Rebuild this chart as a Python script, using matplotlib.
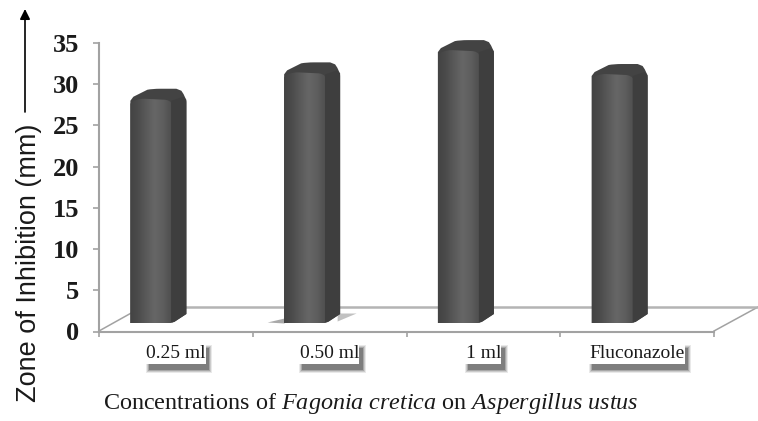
import numpy as np
import matplotlib
matplotlib.use("Agg")
import matplotlib.pyplot as plt
from matplotlib.lines import Line2D
from matplotlib.path import Path
from matplotlib.patches import PathPatch, Rectangle, Polygon, FancyArrowPatch
from matplotlib.transforms import IdentityTransform
from matplotlib.colors import LinearSegmentedColormap

categories = ["0.25 ml", "0.50 ml", "1 ml", "Fluconazole"]
values = [26.6, 29.8, 32.5, 29.6]
y_ticks = [0, 5, 10, 15, 20, 25, 30, 35]

W, H = 758, 421
plt.rcParams["mathtext.fontset"] = "custom"
plt.rcParams["mathtext.rm"] = "Liberation Serif"
plt.rcParams["mathtext.it"] = "Liberation Serif:italic"
plt.rcParams["mathtext.bf"] = "Liberation Serif:bold"

fig = plt.figure(figsize=(W / 100, H / 100), dpi=100, facecolor="white")
ax = fig.add_axes([99 / W, (H - 331.5) / H, (714 - 99) / W, 288.5 / H])
ax.set_xlim(-0.5, 3.5)
ax.set_ylim(0, 35)
ax.patch.set_visible(False)
for s in ("top", "right"):
    ax.spines[s].set_visible(False)
GR = "#a2a2a2"
for s in ("left", "bottom"):
    ax.spines[s].set_color(GR)
    ax.spines[s].set_linewidth(1.5)

ax.set_yticks(y_ticks)
ax.set_yticklabels([str(t) for t in y_ticks], family="Liberation Serif",
                   fontweight="bold", fontsize=19, color="#1a1a1a")
ax.tick_params(axis="y", length=4.5, width=1.2, color=GR, pad=9.5)
ax.set_xticks(np.arange(-0.5, 4, 1))
ax.set_xticklabels([])
ax.tick_params(axis="x", which="major", length=3.5, width=1.2, color=GR)
ax.set_xticks(np.arange(len(categories)), categories, minor=True)
ax.tick_params(axis="x", which="minor", length=0, pad=10)
tick_texts = ax.get_xticklabels(minor=True)
for t in tick_texts:
    t.set_family("Liberation Serif")
    t.set_fontsize(14)
    t.set_color("#1a1a1a")
    t.set_zorder(6)


def fp(x, y):
    return (x / W, 1 - y / H)


# floor of the 3-D box
for a, b in [((99, 331), (142, 307)), ((714, 331), (758, 307))]:
    fig.add_artist(Line2D(*zip(fp(*a), fp(*b)), color=GR, lw=1.1, transform=fig.transFigure, zorder=1))
fig.add_artist(Line2D(*zip(fp(133, 306.5), fp(758, 306.5)), color="#b4b4b4", lw=1.8,
                      transform=fig.transFigure, zorder=1))

# bars
cmap = LinearSegmentedColormap.from_list(
    "b", ["#434343", "#4c4c4c", "#5a5a5a", "#666666", "#5f5f5f", "#505050"])
FW, SD = 42, 14   # front face / side depth in px
base_px = 8.5
shift = IdentityTransform()
for i, v in enumerate(values):
    ax_xy = ax.transData.transform((i, 0))
    x0 = ax_xy[0] - 45.5
    y0 = ax_xy[1] + base_px
    top = ax.transData.transform((i, v))[1] + base_px
    x1 = x0 + FW
    x2 = x1 + SD

    # whole silhouette: the side and top colour
    verts = [(x0, y0), (x1 - 3, y0), (x1 + 2, y0 + 1), (x2, y0 + 9), (x2, top + 1),
             (x2, top + 6), (x2 - 5, top + 13), (x2 - 10, top + 15), (x2 - 12, top + 15),
             (x0 + 30, top + 15), (x0 + 22, top + 15), (x0 + 17, top + 14), (x0 + 3, top + 7), (x0, top + 3),
             (x0, top), (x0, y0)]
    codes = [Path.MOVETO, Path.LINETO, Path.LINETO, Path.LINETO, Path.LINETO,
             Path.CURVE3, Path.CURVE3, Path.LINETO, Path.LINETO,
             Path.LINETO, Path.CURVE3, Path.CURVE3, Path.LINETO, Path.LINETO,
             Path.LINETO, Path.CLOSEPOLY]
    sil = PathPatch(Path(verts, codes), fc="#434343", ec="none", transform=shift, zorder=3)
    ax.add_patch(sil).set_clip_on(False)
    # side sheen
    sv = [(x1 - 1, y0), (x1 + 3, y0 + 2), (x2, y0 + 9), (x2, top + 4), (x2 - 3, top + 7), (x1 - 1, top + 3)]
    ax.add_patch(Polygon(sv, closed=True, fc="#3e3e3e", ec="none", transform=shift, zorder=3.15)).set_clip_on(False)
    # front face with a horizontal sheen, rounded on top
    fverts = [(x0, y0), (x1 - 1, y0), (x1 - 1, top), (x1 - 1, top + 3), (x1 - 7, top + 4),
              (x0 + 14, top + 5), (x0 + 4, top + 5), (x0, top), (x0, top - 6), (x0, y0)]
    fcodes = [Path.MOVETO, Path.LINETO, Path.LINETO, Path.CURVE3, Path.CURVE3, Path.LINETO,
              Path.CURVE3, Path.CURVE3, Path.LINETO, Path.CLOSEPOLY]
    clip = PathPatch(Path(fverts, fcodes), transform=shift, fc="none", ec="none")
    ax.add_patch(clip)
    clip.set_clip_on(False)
    im = ax.imshow(np.linspace(0, 1, 64).reshape(1, -1), cmap=cmap, aspect="auto",
                   extent=(x0, x1 - 1, y0, top + 6), transform=shift, zorder=3.2, interpolation="bilinear")
    im.set_clip_path(clip)

ax.set_xlim(-0.5, 3.5)
ax.set_ylim(0, 35)

# stray shadow at the foot of the second bar
bar2 = ax.transData.transform((1, 0))
ax.add_patch(Polygon([(bar2[0] - 62, bar2[1] + 9), (bar2[0] - 45, bar2[1] + 13), (bar2[0] - 45, bar2[1] + 8)],
                     closed=True, fc="#555555", alpha=0.5, ec="none", transform=shift, zorder=2))
ax.add_patch(Polygon([(bar2[0] + 8, bar2[1] + 10), (bar2[0] + 27, bar2[1] + 18), (bar2[0] + 8, bar2[1] + 18)],
                     closed=True, fc="#666666", alpha=0.4, ec="none", transform=shift, zorder=2))

# axis titles and arrow
fig.text(29 / W, 1 - 263 / H, "Zone of Inhibition (mm)", rotation=90, ha="center", va="center",
         family="Liberation Sans", fontsize=19.5, color="#1a1a1a")
fig.add_artist(FancyArrowPatch(fp(25, 112), fp(25, 9), transform=fig.transFigure,
                               arrowstyle="-|>", mutation_scale=15, lw=1.2, color="black",
                               shrinkA=0, shrinkB=0))
fig.text(371 / W, 1 - 404 / H,
         r"Concentrations of $\mathit{Fagonia\ cretica}$ on $\mathit{Aspergillus\ ustus}$",
         ha="center", va="center", family="Liberation Serif", fontsize=17.4, color="#1a1a1a")

# labels sit on a soft dark drop shadow
fig.canvas.draw()
r = fig.canvas.get_renderer()
for t in tick_texts:
    e = t.get_window_extent(r)
    for grow, a in [(2.5, 0.10), (1.5, 0.16), (0.5, 0.22), (-0.5, 0.35)]:
        fig.add_artist(Rectangle((e.x0 + 2 - grow, e.y0 - 8 - grow), e.width + 2 + 2 * grow, e.height + 6 + 2 * grow,
                                 fc="#303030", alpha=a, ec="none", transform=shift, zorder=2))
    fig.add_artist(Rectangle((e.x0 - 1, e.y0 - 2), e.width + 1, e.height + 4, fc="white", ec="none",
                             transform=shift, zorder=2.5))
ax.set_zorder(5)

fig.savefig("out.png", dpi=100)
